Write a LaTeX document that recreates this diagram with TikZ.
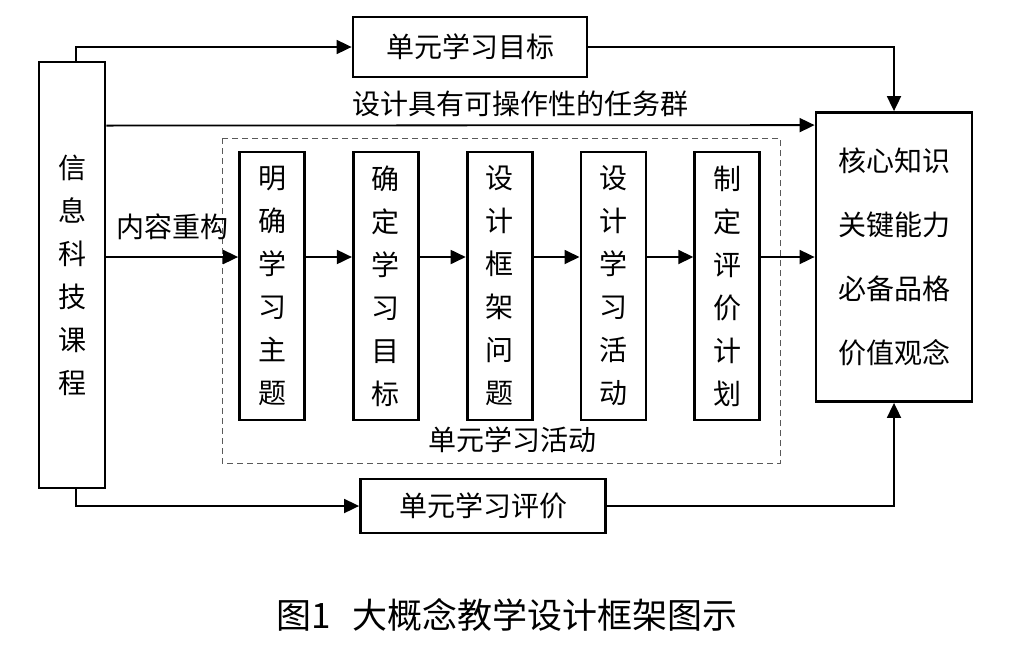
\documentclass[tikz,border=0pt]{standalone}
\usepackage{fontspec}
\setmainfont{Noto Sans CJK SC}
\usetikzlibrary{positioning,arrows.meta,calc}

\tikzset{
  kuang/.style={draw, line width=2.8pt, inner sep=0pt, align=center, font=\fontsize{28}{43}\selectfont},
  shu/.style={kuang, minimum width=65pt, minimum height=268pt},
  biaoqian/.style={font=\fontsize{28}{34}\selectfont, inner sep=2pt},
  arr/.style={line width=1.8pt, -{Triangle[length=15pt,width=14pt]}},
}

\begin{document}
\begin{tikzpicture}[x=1pt,y=-1pt]
\useasboundingbox (0,0) rectangle (1014,654);
% outer boxes
\node[kuang, minimum width=66pt, minimum height=426pt] at (72,275) (kecheng) {信\\息\\科\\技\\课\\程};
\node[kuang, minimum width=234pt, minimum height=60pt] at (470,47) (mubiao) {单元学习目标};
\node[kuang, minimum width=245pt, minimum height=54pt] at (483,506) (pingjia) {单元学习评价};
\node[kuang, minimum width=156pt, minimum height=289pt, font=\fontsize{28}{64}\selectfont] at (894,257) (suyang) {核心知识\\关键能力\\必备品格\\价值观念};
% unit activities
\node[shu] at (272,286) (huo1) {明\\确\\学\\习\\主\\题};
\node[shu, right=46pt of huo1] (huo2) {确\\定\\学\\习\\目\\标};
\node[shu, right=46pt of huo2] (huo3) {设\\计\\框\\架\\问\\题};
\node[shu, right=46pt of huo3] (huo4) {设\\计\\学\\习\\活\\动};
\node[shu, right=46pt of huo4] (huo5) {制\\定\\评\\价\\计\\划};
\draw[line width=1pt, dash pattern=on 6pt off 4pt, gray!70!black] (222,138) rectangle (780,463);
\node[biaoqian] at (512,440) (huodong) {单元学习活动};
% connectors
\coordinate (zhong) at (0,257);
\draw[arr] ([xshift=4pt]kecheng.north) |- (mubiao.west);
\draw[arr] (mubiao.east) -| (suyang.north);
\draw[arr] ([yshift=-65pt]kecheng.north east) -- ([yshift=-14pt]suyang.north west)
  node[biaoqian, pos=0.585, above=6pt] {设计具有可操作性的任务群};
\draw[arr] (kecheng.east |- zhong) -- (huo1.west |- zhong) node[biaoqian, midway, above=14pt] {内容重构};
\foreach \a/\b in {1/2,2/3,3/4,4/5}
  \draw[arr] (huo\a.east |- zhong) -- (huo\b.west |- zhong);
\draw[arr] (huo5.east |- zhong) -- (suyang.west |- zhong);
\draw[arr] ([xshift=4pt]kecheng.south) |- (pingjia.west);
\draw[arr] (pingjia.east) -| (suyang.south);
% caption
\node[font=\fontsize{35}{40}\selectfont] at (507,615) (tuming) {图1\hspace{0.6em}大概念教学设计框架图示};
\end{tikzpicture}
\end{document}
